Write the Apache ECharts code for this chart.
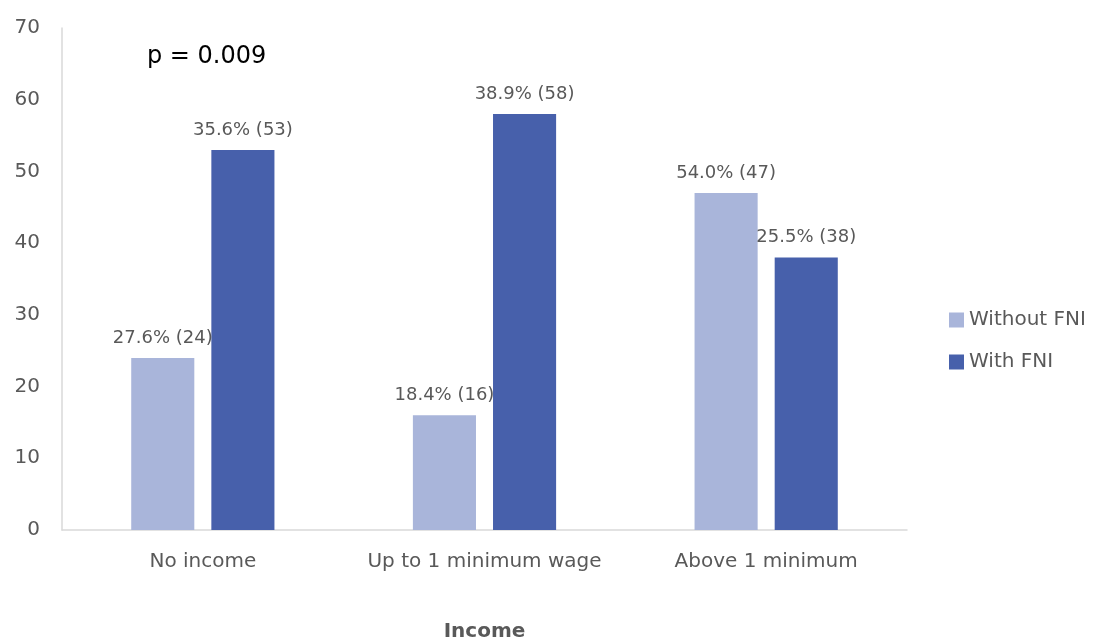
<!DOCTYPE html>
<html>
<head>
<meta charset="utf-8">
<script src="https://cdn.jsdelivr.net/npm/echarts@6/dist/echarts.min.js"></script>
<style>
  html, body { margin: 0; padding: 0; background: #fff; }
  #chart { width: 1101px; height: 639px; }
</style>
</head>
<body>
<div id="chart"></div>
<script>
// 数据
const categories = ['No income', 'Up to 1 minimum wage', 'Above 1 minimum']
const withoutFni = [24, 16, 47]
const withoutPct = ['27.6%', '18.4%', '54.0%']
const withFni = [53, 58, 38]
const withPct = ['35.6%', '38.9%', '25.5%']
const yTicks = [0, 10, 20, 30, 40, 50, 60, 70]

const font = "'DejaVu Sans', sans-serif"
const grey = '#595959'

var myChart = echarts.init(document.getElementById('chart'))

const labelFor = pct => ({
  show: true,
  position: 'top',
  distance: 11,
  color: grey,
  fontFamily: font,
  fontSize: 18,
  formatter: p => pct[p.dataIndex] + ' (' + p.value + ')'
})

let option = {
  animation: false,
  grid: {
    left: 62,
    right: 194,
    top: 28,
    bottom: 109,
    outerBoundsMode: 'none',
    containLabel: false
  },
  legend: {
    orient: 'vertical',
    left: 944,
    top: 305,
    itemWidth: 15,
    itemHeight: 15,
    itemGap: 22,
    itemStyle: { borderWidth: 0 },
    icon: 'rect',
    textStyle: { color: grey, fontFamily: font, fontSize: 20 }
  },
  graphic: [
    {
      type: 'text',
      left: 147,
      top: 45,
      style: { text: 'p = 0.009', fill: '#000', font: '24px ' + font }
    }
  ],
  xAxis: {
    type: 'category',
    data: categories,
    name: 'Income',
    nameLocation: 'middle',
    nameGap: 92,
    nameTextStyle: { color: grey, fontFamily: font, fontSize: 20, fontWeight: 'bold' },
    axisTick: { show: false },
    axisLine: { lineStyle: { color: '#d9d9d9', width: 1.5 } },
    axisLabel: { interval: 0, hideOverlap: false, color: grey, fontFamily: font, fontSize: 20, margin: 22 }
  },
  yAxis: {
    type: 'value',
    min: yTicks[0],
    max: yTicks[yTicks.length - 1],
    interval: 10,
    axisLine: { show: true, lineStyle: { color: '#d9d9d9', width: 1.5 } },
    axisTick: { show: false },
    splitLine: { show: false },
    axisLabel: { color: grey, fontFamily: font, fontSize: 20, margin: 22 }
  },
  series: [
    {
      name: 'Without FNI',
      type: 'bar',
      data: withoutFni,
      barWidth: '22.4%',
      barGap: '27%',
      itemStyle: { color: '#a9b5da' },
      label: labelFor(withoutPct)
    },
    {
      name: 'With FNI',
      type: 'bar',
      data: withFni,
      barWidth: '22.4%',
      barGap: '27%',
      itemStyle: { color: '#4760ab' },
      label: labelFor(withPct)
    }
  ]
}

myChart.setOption(option)
</script>
</body>
</html>
